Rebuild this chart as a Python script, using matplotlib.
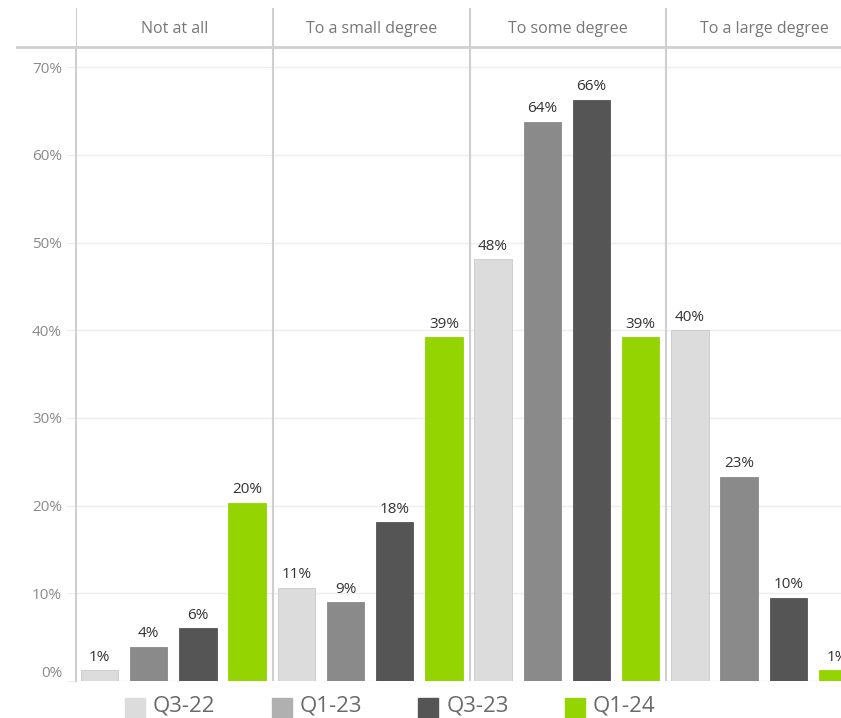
import matplotlib.pyplot as plt
from matplotlib.lines import Line2D
from matplotlib.patches import Rectangle

plt.rcParams['font.family'] = ['Open Sans', 'DejaVu Sans']

# data
panels = ['Not at all', 'To a small degree', 'To some degree', 'To a large degree']
series = ['Q3-22', 'Q1-23', 'Q3-23', 'Q1-24']
values = {
    'Q3-22': [1.2, 10.6, 48.1, 40.0],
    'Q1-23': [3.9, 9.0, 63.8, 23.3],
    'Q3-23': [6.0, 18.1, 66.3, 9.5],
    'Q1-24': [20.3, 39.2, 39.2, 1.2],
}
labels = {
    'Q3-22': ['1%', '11%', '48%', '40%'],
    'Q1-23': ['4%', '9%', '64%', '23%'],
    'Q3-23': ['6%', '18%', '66%', '10%'],
    'Q1-24': ['20%', '39%', '39%', '1%'],
}
bar_colors = ['#dcdcdc', '#8a8a8a', '#555555', '#94d400']
legend_colors = ['#dcdcdc', '#b0b0b0', '#555555', '#94d400']
yticks = [0, 10, 20, 30, 40, 50, 60, 70]

W, H = 841, 718
fig = plt.figure(figsize=(W / 100, H / 100), dpi=100)

x0, x1 = 76, 863
top, bottom = 47, 681
ax = fig.add_axes([x0 / W, (H - bottom) / H, (x1 - x0) / W, (bottom - top) / H])
hax = fig.add_axes([x0 / W, (H - top) / H, (x1 - x0) / W, (top - 8) / H])

for j, s in enumerate(series):
    xs = [i + 0.12 + j * 0.25 for i in range(len(panels))]
    bars = ax.bar(xs, values[s], width=0.19, color=bar_colors[j],
                  edgecolor='#c8c8c8' if j == 0 else bar_colors[j], linewidth=0.6, zorder=3)
    for b, lab in zip(bars, labels[s]):
        ax.annotate(lab, (b.get_x() + b.get_width() / 2, b.get_height()),
                    xytext=(0, 4), textcoords='offset points', ha='center', va='bottom',
                    fontsize=11, color='#333333', fontweight='medium')

ax.set_xlim(0, 4)
ax.set_ylim(0.25, 72.3)
ax.set_yticks(yticks)
ax.set_yticklabels([f'{t}%' for t in yticks])
ax.tick_params(axis='y', length=7, color='#eeeeee', labelsize=11, labelcolor='#8a8a8a', pad=3)
for t in ax.get_yticklabels():
    if t.get_text() == '0%':
        t.set_va('bottom')
ax.set_xticks([])
ax.grid(axis='y', color='#eeeeee', linewidth=1, zorder=0)
for sp in ['top', 'right', 'bottom']:
    ax.spines[sp].set_visible(False)
ax.spines['left'].set_color('#cfcfcf')
ax.spines['left'].set_linewidth(1.5)
for i in range(1, 4):
    ax.axvline(i, color='#cfcfcf', linewidth=1.5, zorder=4)

# header
hax.set_xlim(0, 4)
hax.set_ylim(0, 1)
hax.axis('off')
hax.axvline(0, color='#cfcfcf', linewidth=1.5)
for i, p in enumerate(panels):
    hax.text(i + 0.5, 0.45, p, ha='center', va='center', fontsize=11.5, color='#777777')
    if i > 0:
        hax.axvline(i, color='#cfcfcf', linewidth=1.5)
fig.add_artist(Line2D([17 / W, 1], [(H - top) / H] * 2, color='#d0d0d0', linewidth=2))

# legend
for j, s in enumerate(series):
    lx = 125 + j * 146.7
    fig.add_artist(Rectangle((lx / W, 0), 20 / W, 20 / H,
                             transform=fig.transFigure, color=legend_colors[j]))
    fig.text((lx + 28) / W, (H - 706) / H, s, ha='left', va='center', fontsize=16, color='#6a6a6a')

fig.savefig('out.png', dpi=100)
